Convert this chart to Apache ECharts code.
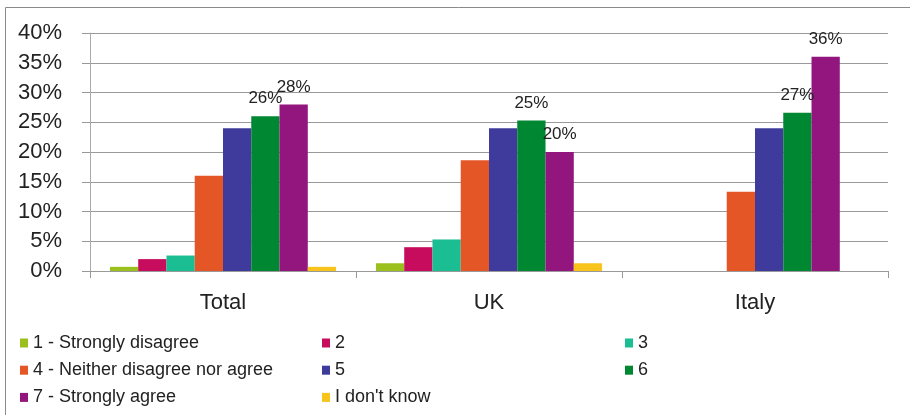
<!DOCTYPE html>
<html>
<head>
<meta charset="utf-8">
<script src="https://cdn.jsdelivr.net/npm/echarts@6/dist/echarts.min.js"></script>
<style>
html,body{margin:0;padding:0;background:#fff;}
#c{width:910px;height:415px;}
</style>
</head>
<body>
<div id="c"></div>
<script>
const categories = ['Total', 'UK', 'Italy'];
const seriesNames = ['1 - Strongly disagree', '2', '3', '4 - Neither disagree nor agree', '5', '6', '7 - Strongly agree', "I don't know"];
const s1 = [0.7, 1.3, 0];
const s2 = [2.0, 4.0, 0];
const s3 = [2.6, 5.3, 0];
const s4 = [16.0, 18.6, 13.3];
const s5 = [24.0, 24.0, 24.0];
const s6 = [26.0, 25.3, 26.6];
const s7 = [28.0, 20.0, 36.0];
const sIdk = [0.7, 1.3, 0];
const yTicks = [0, 5, 10, 15, 20, 25, 30, 35, 40];

const seriesValues = [s1, s2, s3, s4, s5, s6, s7, sIdk];
const colors = ['#9bbf1c', '#c70c5d', '#1bbd92', '#e55626', '#3e3b9d', '#008732', '#92167d', '#f8c31b'];
const labelled = [false, false, false, false, false, true, true, false];
const font = "'Liberation Sans', Arial, sans-serif";

const chart = echarts.init(document.getElementById('c'), null, {renderer: 'canvas'});

const series = seriesNames.map((name, i) => ({
  name: name,
  type: 'bar',
  data: seriesValues[i],
  barGap: '0%',
  barCategoryGap: '15%',
  itemStyle: {color: colors[i]},
  label: {
    show: labelled[i],
    position: 'top',
    distance: 9,
    color: '#222',
    fontSize: 17,
    fontFamily: font,
    formatter: p => Math.round(p.value) + '%'
  }
}));

const legendBase = {
  orient: 'vertical',
  top: 333,
  padding: 0,
  itemWidth: 8,
  itemHeight: 9,
  itemGap: 7.2,
  itemTextGap: 7,
  icon: 'rect',
  selectedMode: false,
  textStyle: {fontSize: 18, fontFamily: font, color: '#222', lineHeight: 20}
};

chart.setOption({
  animation: false,
  backgroundColor: '#fff',
  textStyle: {fontFamily: font},
  grid: {left: 90, right: 22, top: 33, bottom: 144, containLabel: false},
  legend: [
    Object.assign({}, legendBase, {left: 20, data: [seriesNames[0], seriesNames[3], seriesNames[6]]}),
    Object.assign({}, legendBase, {left: 322, data: [seriesNames[1], seriesNames[4], seriesNames[7]]}),
    Object.assign({}, legendBase, {left: 625, data: [seriesNames[2], seriesNames[5]]})
  ],
  xAxis: {
    type: 'category',
    data: categories,
    axisLine: {show: true, lineStyle: {color: '#999', width: 1}},
    axisTick: {show: true, length: 7, alignWithLabel: false, lineStyle: {color: '#999'}},
    axisLabel: {fontSize: 22, color: '#222', margin: 21, fontFamily: font}
  },
  yAxis: {
    type: 'value',
    min: 0,
    max: 40,
    interval: 5,
    axisLine: {show: true, lineStyle: {color: '#aaa', width: 1}},
    axisTick: {show: true, length: 8, inside: false, lineStyle: {color: '#999'}},
    axisLabel: {fontSize: 22, color: '#222', margin: 28, fontFamily: font,
      formatter: v => yTicks.indexOf(v) >= 0 ? v + '%' : ''},
    splitLine: {show: true, lineStyle: {color: '#999', width: 1}}
  },
  graphic: [{
    type: 'rect',
    shape: {x: 5.5, y: 7.5, width: 1000, height: 1000},
    style: {fill: 'none', stroke: '#8a8a8a', lineWidth: 1},
    silent: true,
    z: -1
  }],
  series: series
});
</script>
</body>
</html>
